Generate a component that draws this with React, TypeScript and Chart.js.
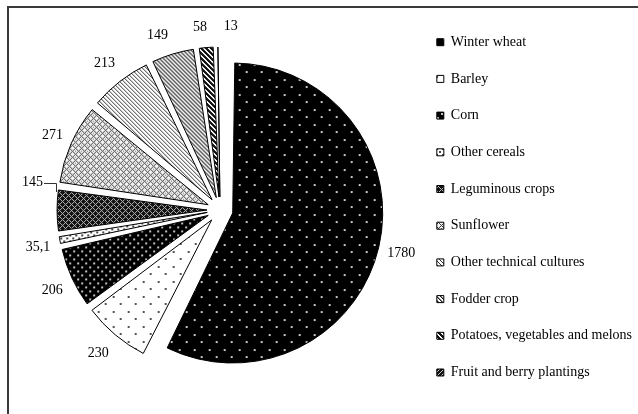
import React, { useEffect, useRef } from 'react';
import { Chart, registerables } from 'chart.js';

Chart.register(...registerables);

// ---------- data ----------
const categories = [
  'Winter wheat',
  'Barley',
  'Corn',
  'Other cereals',
  'Leguminous crops',
  'Sunflower',
  'Other technical cultures',
  'Fodder crop',
  'Potatoes, vegetables and melons',
  'Fruit and berry plantings',
];
const areaValues = [1780, 230, 206, 35.1, 145, 271, 213, 149, 58, 13];

// ---------- styles ----------
const SERIF = "'Liberation Serif', 'Times New Roman', serif";
const EXPLODE = 13; // px translation of each slice
const PIE_RADIUS = 150;
// label nudges in px [dx, dy], by slice index (style only)
const LABEL_NUDGE: Record<number, [number, number]> = {
  1: [-4, 3],
  2: [-1, 4],
  3: [-1, 3],
  4: [-6, -28],
  6: [-3, -2],
  7: [-10, -2],
  8: [-5, -5],
  9: [13, -6],
};
const LEADER_INDEX = 4;

type PixFn = (x: number, y: number) => string | null;

function makePattern(w: number, h: number, bg: string, fn: PixFn): CanvasPattern | string {
  const c = document.createElement('canvas');
  c.width = w;
  c.height = h;
  const g = c.getContext('2d');
  if (!g) return bg;
  g.fillStyle = bg;
  g.fillRect(0, 0, w, h);
  for (let y = 0; y < h; y++) {
    for (let x = 0; x < w; x++) {
      const col = fn(x, y);
      if (col) {
        g.fillStyle = col;
        g.fillRect(x, y, 1, 1);
      }
    }
  }
  return g.createPattern(c, 'repeat') || bg;
}

const mod = (a: number, n: number) => ((a % n) + n) % n;
const inDot = (x: number, y: number, cx: number, cy: number, s: number) =>
  x >= cx && x < cx + s && y >= cy && y < cy + s;

function buildPatterns() {
  return [
    // Winter wheat: black with sparse light dots
    makePattern(15, 15, '#000', (x, y) =>
      inDot(x, y, 1, 1, 2) || inDot(x, y, 8, 8, 2) ? '#c8c8c8' : null),
    // Barley: white with sparse dark dots
    makePattern(15, 15, '#fff', (x, y) =>
      inDot(x, y, 1, 1, 2) || inDot(x, y, 8, 8, 2) ? '#555' : null),
    // Corn: black with dense light dots
    makePattern(8, 8, '#000', (x, y) =>
      inDot(x, y, 1, 1, 2) || inDot(x, y, 5, 5, 2) ? '#c0c0c0' : null),
    // Other cereals: white with dense dark dots
    makePattern(6, 6, '#fff', (x, y) =>
      inDot(x, y, 1, 1, 2) || inDot(x, y, 4, 4, 2) ? '#444' : null),
    // Leguminous crops: dark lattice
    makePattern(6, 6, '#111', (x, y) =>
      mod(x + y, 6) === 0 || mod(x - y, 6) === 0 ? '#bbb' : null),
    // Sunflower: medium-light lattice
    makePattern(6, 6, '#f4f4f4', (x, y) =>
      mod(x + y, 6) === 0 || mod(x - y, 6) === 0 ? '#3a3a3a' : x === 3 && y === 0 ? '#777' : null),
    // Other technical cultures: thin diagonal lines
    makePattern(4, 4, '#fff', (x, y) => (mod(x - y, 4) === 0 ? '#333' : null)),
    // Fodder crop: thicker diagonal lines
    makePattern(4, 4, '#fff', (x, y) => (mod(x - y, 4) === 0 ? '#222' : mod(x - y, 4) === 1 ? '#888' : null)),
    // Potatoes, vegetables and melons: bold diagonal stripes
    makePattern(5, 5, '#fff', (x, y) => (mod(x - y, 5) <= 2 ? '#111' : null)),
    // Fruit and berry plantings: dark with light lines
    makePattern(4, 4, '#111', (x, y) => (mod(x + y, 4) === 0 ? '#ccc' : null)),
  ];
}

const fmt = (v: number) => String(v).replace('.', ',');

// Chart.js enlarges exploded arcs by (offset/4)*fix; compute that term
const radiusGrowth = (el: any) => {
  const off = ((el.options && el.options.offset) || 0) / 4;
  const fix = 1 - Math.sin(Math.min(Math.PI, el.circumference || 0));
  return off * fix;
};

const frameBorder = {
  id: 'frameBorder',
  beforeDraw(chart: any) {
    const ctx = chart.ctx;
    ctx.save();
    ctx.strokeStyle = '#3a3a3a';
    ctx.lineWidth = 2;
    ctx.strokeRect(8, 7, 2000, 2000);
    ctx.restore();
  },
};

const explodeRadiusFix = {
  id: 'explodeRadiusFix',
  afterDatasetUpdate(chart: any, args: any) {
    args.meta.data.forEach((el: any) => {
      el.outerRadius = el.outerRadius - radiusGrowth(el);
    });
  },
};

const sliceLabels = {
  id: 'sliceLabels',
  afterDatasetsDraw(chart: any) {
    const ctx = chart.ctx;
    const meta = chart.getDatasetMeta(0);
    const data = chart.data.datasets[0].data as number[];
    ctx.save();
    ctx.font = `14px ${SERIF}`;
    ctx.fillStyle = '#000';
    ctx.textAlign = 'center';
    ctx.textBaseline = 'middle';
    meta.data.forEach((el: any, i: number) => {
      const t = ((el.options && el.options.offset) || 0) / 4;
      const R = el.outerRadius + radiusGrowth(el);
      const mid = (el.startAngle + el.endAngle) / 2;
      const c = Math.cos(mid);
      const s = Math.sin(mid);
      const txt = fmt(data[i]);
      const tw = ctx.measureText(txt).width;
      const th = 14;
      const dist = R + t + 8 + (tw / 2) * Math.abs(c) + (th / 2) * Math.abs(s);
      const nudge = LABEL_NUDGE[i] || [0, 0];
      const lx = el.x + c * dist + nudge[0];
      const ly = el.y + s * dist + nudge[1];
      ctx.fillText(txt, lx, ly);
      if (i === LEADER_INDEX) {
        const a = el.endAngle - 0.08 * (el.endAngle - el.startAngle);
        const ex = el.x + c * t + Math.cos(a) * R;
        const ey = el.y + s * t + Math.sin(a) * R;
        ctx.save();
        ctx.strokeStyle = '#333';
        ctx.lineWidth = 1;
        ctx.beginPath();
        ctx.moveTo(lx + tw / 2 + 1, Math.round(ly) + 0.5);
        ctx.lineTo(Math.round(ex) - 1.5, Math.round(ly) + 0.5);
        ctx.lineTo(Math.round(ex) - 1.5, ey);
        ctx.stroke();
        ctx.restore();
      }
    });
    ctx.restore();
  },
};

export default function App() {
  const canvasRef = useRef<HTMLCanvasElement | null>(null);

  useEffect(() => {
    const canvas = canvasRef.current;
    if (!canvas) return;
    const patterns = buildPatterns();
    const chart = new Chart(canvas, {
      type: 'pie',
      data: {
        labels: categories,
        datasets: [
          {
            data: areaValues,
            backgroundColor: patterns as any,
            borderColor: '#000',
            borderWidth: 1,
            offset: EXPLODE * 4,
            radius: PIE_RADIUS,
          } as any,
        ],
      },
      options: {
        responsive: false,
        maintainAspectRatio: false,
        animation: false,
        layout: { padding: { left: 26, top: 12.5, bottom: 12.5, right: 0 } },
        plugins: {
          legend: {
            position: 'right',
            align: 'start',
            labels: {
              boxWidth: 7,
              boxHeight: 7,
              padding: 22.7,
              color: '#000',
              font: { family: SERIF, size: 14 },
            },
          },
          tooltip: { enabled: false },
        },
      } as any,
      plugins: [frameBorder, explodeRadiusFix, sliceLabels],
    });
    return () => chart.destroy();
  }, []);

  return (
    <div
      style={{
        position: 'fixed',
        left: 0,
        top: 0,
        width: 638,
        height: 414,
        overflow: 'hidden',
        background: '#fff',
      }}
    >
      <canvas ref={canvasRef} width={642} height={420} style={{ display: 'block' }} />
    </div>
  );
}
